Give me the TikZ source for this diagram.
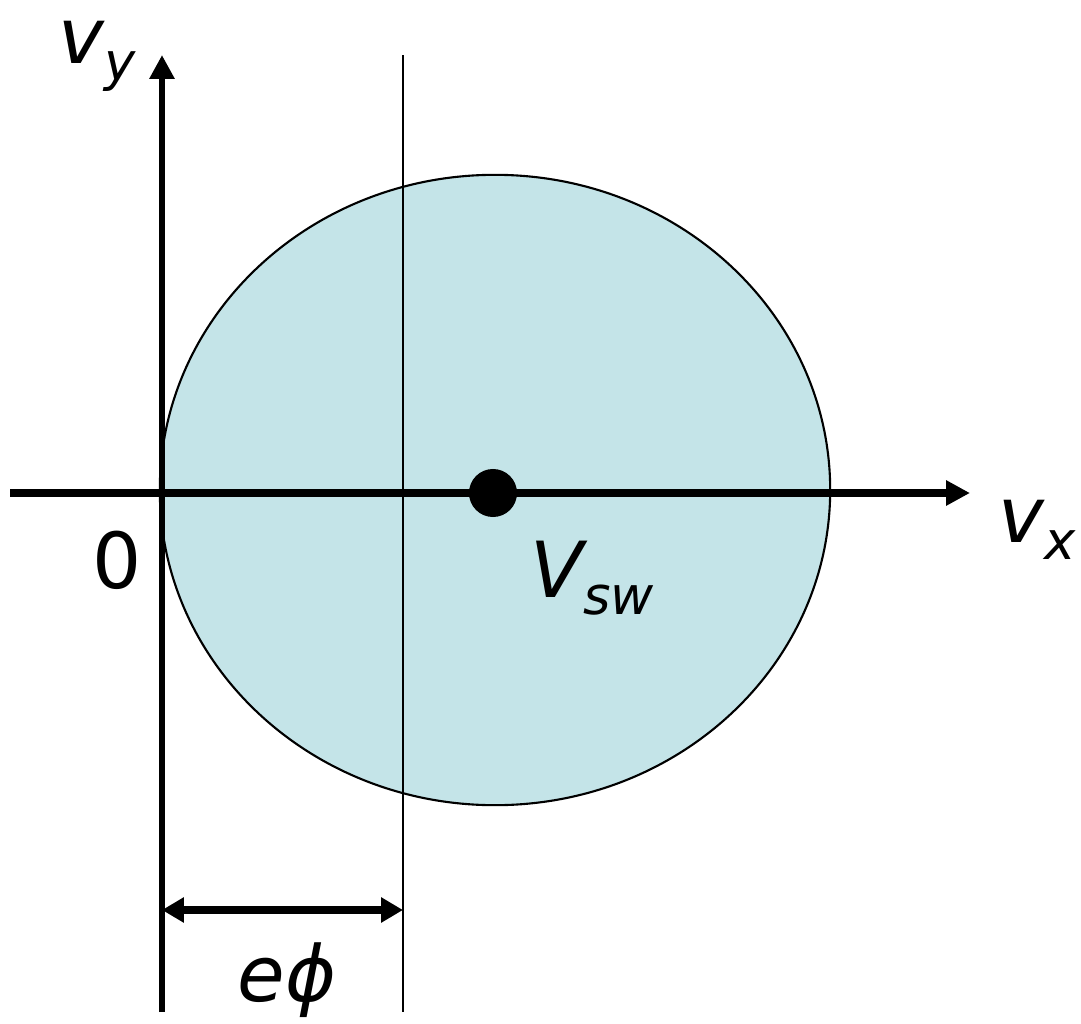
\documentclass[tikz,border=0pt]{standalone}
\usepackage{fontspec}
\setmainfont{DejaVu Sans}
\usetikzlibrary{arrows.meta, positioning, shapes.geometric}
\definecolor{cFill}{RGB}{196,228,232}
\newcommand{\lowidx}[1]{\raisebox{-0.22em}{\fontsize{15}{17}\selectfont #1}}
\tikzset{
    axis/.style    ={line width=1.8pt, -{Triangle[length=6.8pt, width=6.8pt]}},
    haxis/.style   ={axis, line width=2.4pt},
    guide/.style   ={line width=0.6pt},
    dimarrow/.style={line width=2.4pt, {Triangle[length=6.2pt, width=6.8pt]}-{Triangle[length=6.2pt, width=6.8pt]}},
    lbl/.style     ={font=\fontsize{22}{26}\selectfont\itshape, inner sep=0pt},
}

\begin{document}
\begin{tikzpicture}[x=0.01cm, y=-0.01cm]
        \useasboundingbox (0,0) rectangle (1081,1024);
        % distribution
        \node[ellipse, draw, fill=cFill, line width=0.6pt, inner sep=0pt, minimum width=6.7cm, minimum height=6.3cm] (vdf) at (495,490) {};
        % axes and guide line
        \coordinate (xstart) at (10,493);
        \coordinate (xend)   at (970,493);
        \coordinate (ystart) at (162,1012);
        \coordinate (yend)   at (162,55);
        \coordinate (gtop)   at (403,55);
        \coordinate (gbot)   at (403,1012);
        \draw[haxis] (xstart) -- (xend);
        \draw[axis]  (ystart) -- (yend);
        \draw[guide] (gtop) -- (gbot);
        % solar wind speed
        \node[circle, fill=black, inner sep=0pt, minimum size=0.48cm] (vsw) at (493,493) {};
        % potential shift
        \coordinate (dleft)  at (162,910);
        \coordinate (dright) at (403,910);
        \draw[dimarrow] (dleft) -- (dright);
        % labels
        \node[lbl] (vylabel) at (97,56)   {v\lowidx{y}};
        \node[lbl] (vxlabel) at (1037,530) {v\lowidx{x}};
        \node[lbl, font=\fontsize{22}{26}\selectfont] (origin) at (117,560) {0};
        \node[lbl] (vswlabel) at (592,578) {V\lowidx{sw}};
        \node[lbl] (ephi) at (287,980) {eϕ};
    \end{tikzpicture}
\end{document}
